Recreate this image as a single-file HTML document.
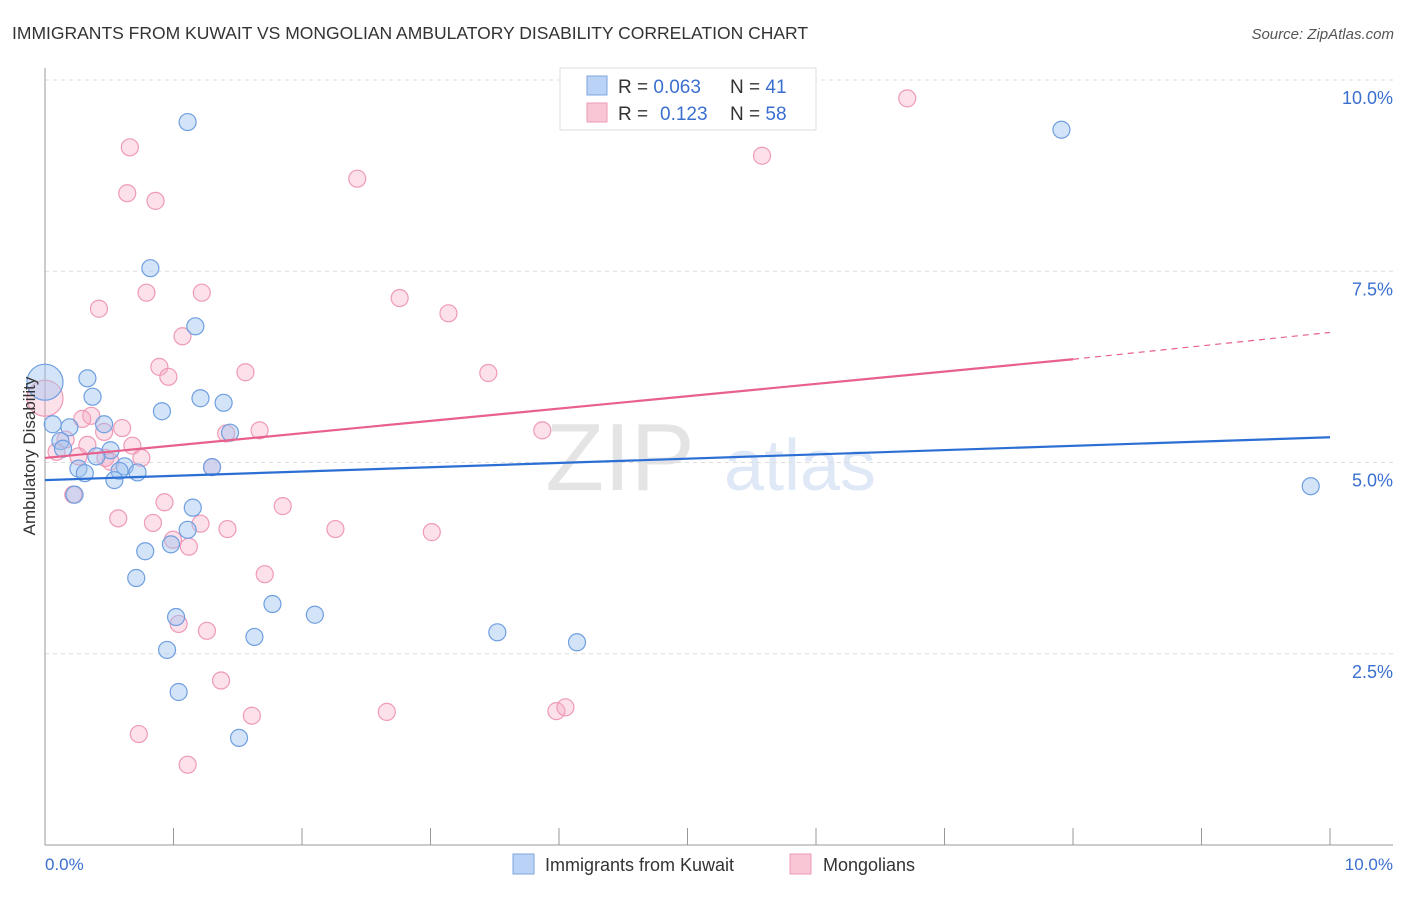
<!DOCTYPE html>
<html><head><meta charset="utf-8"><style>
body{margin:0;background:#fff;font-family:"Liberation Sans",sans-serif;}
svg text{font-family:"Liberation Sans",sans-serif;}
</style></head><body>
<svg id="chart" width="1406" height="892" xmlns="http://www.w3.org/2000/svg">
<text x="12" y="39" font-size="17.5" fill="#333">IMMIGRANTS FROM KUWAIT VS MONGOLIAN AMBULATORY DISABILITY CORRELATION CHART</text>
<text x="1394" y="39" font-size="15" fill="#555" font-style="italic" text-anchor="end">Source: ZipAtlas.com</text>
<text x="620" y="490" font-size="96" fill="#e4e4e4" font-family="Liberation Serif" text-anchor="middle">ZIP</text>
<text x="800" y="490" font-size="72" fill="#dfe8f6" text-anchor="middle">atlas</text>
<g id="grid"></g><g id="axes"></g><g id="pts"></g><g id="trend"></g>
<text x="35" y="456" font-size="17" fill="#333" text-anchor="middle" transform="rotate(-90 35 456)">Ambulatory Disability</text>
<text x="45" y="870" font-size="17" fill="#3a6fd0">0.0%</text>
<text x="1393" y="870" font-size="17" fill="#3a6fd0" text-anchor="end">10.0%</text>
<g>
<rect x="560" y="68" width="256" height="62" fill="#fff" stroke="#ddd"/>
<rect x="587" y="76" width="20" height="19" fill="#b9d2f5" stroke="#7ea6e0"/>
<rect x="587" y="103" width="20" height="19" fill="#f9c6d5" stroke="#ee9ab5"/>
<text x="618" y="93" font-size="19" fill="#333">R = <tspan fill="#3a6fd0">0.063</tspan><tspan x="730">N = </tspan><tspan fill="#3a6fd0">41</tspan></text>
<text x="618" y="120" font-size="19" fill="#333">R = <tspan fill="#3a6fd0" x="660">0.123</tspan><tspan x="730">N = </tspan><tspan fill="#3a6fd0">58</tspan></text>
</g>
<g>
<rect x="513" y="854" width="21" height="20" fill="#b9d2f5" stroke="#7ea6e0"/>
<text x="545" y="871" font-size="18" fill="#333">Immigrants from Kuwait</text>
<rect x="790" y="854" width="21" height="20" fill="#f9c6d5" stroke="#ee9ab5"/>
<text x="823" y="871" font-size="18" fill="#333">Mongolians</text>
</g>
</svg>
<script>
const yTicks=[2.5,5.0,7.5,10.0];
const yTickLabels=["2.5%","5.0%","7.5%","10.0%"];
const xTicks=[0,1,2,3,4,5,6,7,8,9,10];
const kuwaitX=[1.11,7.91,0.82,1.17,0.33,0.37,1.21,1.39,0.91,0.06,0.19,0.46,1.44,0.12,0.14,0.51,0.40,0.62,0.26,0.31,0.58,0.72,1.30,0.54,0.23,1.15,1.11,0.78,0.98,0.71,1.77,1.02,2.10,1.63,3.52,4.14,0.95,1.04,1.51,9.85,0.0];
const kuwaitY=[9.45,9.35,7.54,6.78,6.10,5.86,5.84,5.78,5.67,5.50,5.46,5.50,5.39,5.28,5.18,5.16,5.08,4.95,4.92,4.86,4.89,4.87,4.94,4.77,4.58,4.41,4.12,3.84,3.93,3.49,3.15,2.98,3.01,2.72,2.78,2.65,2.55,2.00,1.40,4.69,6.05];
const mongX=[6.71,0.66,5.58,0.64,0.86,2.43,0.79,1.22,0.42,2.76,3.14,1.07,0.89,0.96,1.56,3.45,0.0,0.36,0.29,0.60,1.67,3.87,1.41,0.46,0.16,0.33,0.68,0.09,0.26,0.47,0.75,0.51,1.30,0.22,0.93,1.85,0.57,0.84,1.21,1.42,2.26,3.01,0.996,1.12,1.71,1.04,1.26,1.37,1.61,2.66,3.98,4.05,0.73,1.11];
const mongY=[9.76,9.12,9.01,8.52,8.42,8.71,7.22,7.22,7.01,7.15,6.95,6.65,6.25,6.12,6.18,6.17,5.84,5.61,5.57,5.45,5.42,5.42,5.38,5.40,5.30,5.23,5.22,5.14,5.08,5.06,5.06,5.01,4.94,4.58,4.48,4.43,4.27,4.21,4.20,4.13,4.13,4.09,3.99,3.90,3.54,2.89,2.80,2.15,1.69,1.74,1.75,1.80,1.45,1.05];
const kuwaitTrend=[5.0?0:0];
const kuwaitLine=[[0,4.77],[10,5.33]];
const mongLine=[[0,5.06],[8,6.35],[10,6.70]];
const X=v=>45+v*128.5, Y=v=>845-v*76.5;
const NS="http://www.w3.org/2000/svg";
function mk(tag,attrs,parent){const e=document.createElementNS(NS,tag);for(const k in attrs)e.setAttribute(k,attrs[k]);parent.appendChild(e);return e;}
const grid=document.getElementById('grid'),axes=document.getElementById('axes'),pts=document.getElementById('pts'),trend=document.getElementById('trend');
yTicks.forEach((t,i)=>{
 const l=mk('line',{x1:45,x2:1393,y1:Y(t),y2:Y(t),stroke:'#ddd','stroke-dasharray':'4,4'},grid);
 
 
 const tx=mk('text',{x:1393,y:Y(t)+24,'font-size':18,fill:'#3a6fd0','text-anchor':'end'},grid);
 tx.textContent=yTickLabels[i];
 
 
});
const ya=mk('line',{x1:45,x2:45,y1:68,y2:845,stroke:'#999'},axes);


const xa=mk('line',{x1:45,x2:1393,y1:845,y2:845,stroke:'#999'},axes);


xTicks.forEach(t=>{
 const l=mk('line',{x1:X(t),x2:X(t),y1:828,y2:845,stroke:'#999'},axes);
 
 
});
mongX.forEach((x,i)=>{
 const c=mk('circle',{cx:X(x),cy:Y(mongY[i]),r:x===0?18:8.5,fill:'rgba(245,170,195,0.35)',stroke:'#ef9ab6','stroke-width':1.2},pts);
 
 
});
kuwaitX.forEach((x,i)=>{
 const c=mk('circle',{cx:X(x),cy:Y(kuwaitY[i]),r:x===0?18:8.5,fill:'rgba(160,195,240,0.45)',stroke:'#6f9fe0','stroke-width':1.2},pts);
 
 
});
const kl=mk('line',{x1:X(kuwaitLine[0][0]),y1:Y(kuwaitLine[0][1]),x2:X(kuwaitLine[1][0]),y2:Y(kuwaitLine[1][1]),stroke:'#2c6fd4','stroke-width':2.2},trend);


const ml=mk('line',{x1:X(mongLine[0][0]),y1:Y(mongLine[0][1]),x2:X(mongLine[1][0]),y2:Y(mongLine[1][1]),stroke:'#e8608c','stroke-width':2.2},trend);


const md=mk('line',{x1:X(mongLine[1][0]),y1:Y(mongLine[1][1]),x2:X(mongLine[2][0]),y2:Y(mongLine[2][1]),stroke:'#e8608c','stroke-width':1.2,'stroke-dasharray':'6,5'},trend);


</script>
</body></html>
